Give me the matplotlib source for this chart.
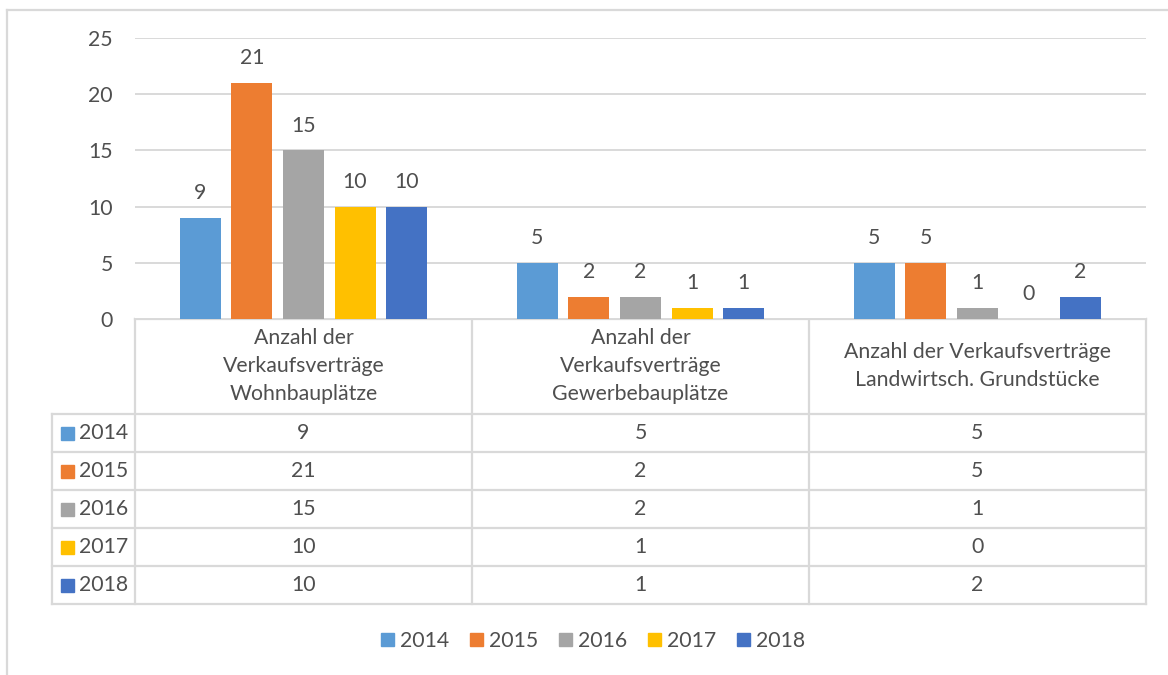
import matplotlib.pyplot as plt
from matplotlib.patches import Patch, Rectangle
import numpy as np

# data
categories = [
    "Anzahl der\nVerkaufsverträge\nWohnbauplätze",
    "Anzahl der\nVerkaufsverträge\nGewerbebauplätze",
    "Anzahl der Verkaufsverträge\nLandwirtsch. Grundstücke",
]
years = ["2014", "2015", "2016", "2017", "2018"]
v2014 = [9, 5, 5]
v2015 = [21, 2, 5]
v2016 = [15, 2, 1]
v2017 = [10, 1, 0]
v2018 = [10, 1, 2]
yticks = [0, 5, 10, 15, 20, 25]

series = [v2014, v2015, v2016, v2017, v2018]
colors = ["#5B9BD5", "#ED7D31", "#A5A5A5", "#FFC000", "#4472C4"]
txt = "#4F4F4F"
grid = "#D9D9D9"

plt.rcParams['font.family'] = ['Lato', 'DejaVu Sans']
FS = 15.3

W, H = 1168, 675
fig = plt.figure(figsize=(W / 100, H / 100), dpi=100)

# bar chart area (pixel layout -> figure fraction)
px_l, px_r, px_t, px_b = 135, 1146, 38, 319
ax = fig.add_axes([px_l / W, 1 - px_b / H, (px_r - px_l) / W, (px_b - px_t) / H])

x = np.arange(len(categories))
bw = 0.122
step = 0.153
for i, (vals, c) in enumerate(zip(series, colors)):
    bars = ax.bar(x + (i - 2) * step, vals, bw, color=c, zorder=3)
    ax.bar_label(bars, padding=10.5, fontsize=FS, color=txt)

ax.set_xlim(-0.5, len(categories) - 0.5)
ax.set_ylim(0, 25)
ax.set_yticks(yticks)
ax.set_xticks([])
ax.tick_params(axis='y', length=0, pad=16, labelsize=FS, labelcolor=txt)
ax.yaxis.grid(True, color=grid, lw=1.4, zorder=0)
for s in ["top", "right", "left", "bottom"]:
    ax.spines[s].set_visible(False)

# overlay in pixel coordinates for table, frame and legend swatches
ov = fig.add_axes([0, 0, 1, 1], zorder=-1)
ov.set_xlim(0, W)
ov.set_ylim(H, 0)
ov.axis("off")

lc = dict(color=grid, lw=1.6)
# outer chart frame (top and left only visible)
ov.plot([7, W], [10, 10], **lc)
ov.plot([7, 7], [10, H], **lc)

col_x = [135, 472, 809, 1146]
head_top, head_bot = 319, 414
row_h = 38
row_y = [head_bot + k * row_h for k in range(len(years) + 1)]
lab_l = 52

ov.plot([col_x[0], col_x[-1]], [head_top, head_top], **lc)
for xx in col_x:
    ov.plot([xx, xx], [head_top, row_y[-1]], **lc)
ov.plot([lab_l, lab_l], [row_y[0], row_y[-1]], **lc)
for yy in row_y:
    ov.plot([lab_l, col_x[-1]], [yy, yy], **lc)

for j, cat in enumerate(categories):
    cx = (col_x[j] + col_x[j + 1]) / 2
    ov.text(cx, (head_top + head_bot) / 2 - 0.5, cat, ha="center", va="center",
            fontsize=FS, color=txt, linespacing=1.47)

for i, (yr, vals, c) in enumerate(zip(years, series, colors)):
    cy = (row_y[i] + row_y[i + 1]) / 2
    ov.add_patch(Rectangle((61, cy - 6.5), 13, 13, color=c))
    ov.text(79, cy, yr, ha="left", va="center", fontsize=FS, color=txt)
    for j, v in enumerate(vals):
        cx = (col_x[j] + col_x[j + 1]) / 2
        ov.text(cx, cy, str(v), ha="center", va="center", fontsize=FS, color=txt)

# legend
handles = [Patch(color=c, label=y) for y, c in zip(years, colors)]
leg = fig.legend(handles=handles, loc="center", ncol=5, frameon=False,
                 bbox_to_anchor=(593 / W, 1 - 641 / H), fontsize=FS,
                 handlelength=0.62, handleheight=0.62, handletextpad=0.3,
                 columnspacing=0.95)
for t in leg.get_texts():
    t.set_color(txt)

fig.savefig("out.png", dpi=100)
